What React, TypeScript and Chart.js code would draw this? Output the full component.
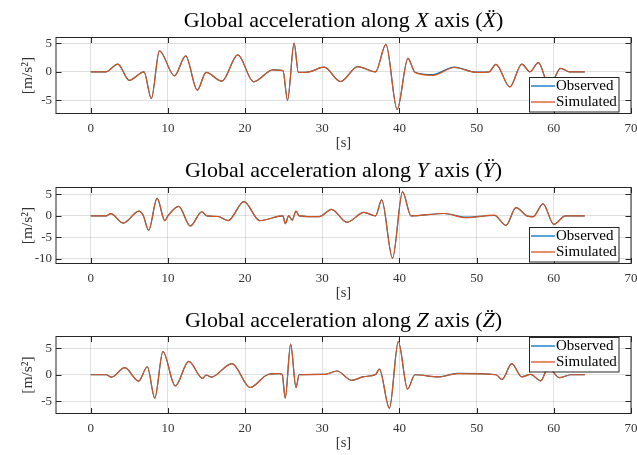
import React, { useEffect, useRef } from 'react';
import { Chart, registerables } from 'chart.js';

Chart.register(...registerables);

// ---------- data ----------
const xTickValues = [0, 10, 20, 30, 40, 50, 60, 70];
const X_MIN = -4.5;
const X_MAX = 70;

const tX = [0, 2, 3.5, 5.0, 6.9, 7.85, 8.9, 10.85, 12.3, 13.8, 14.95, 17.0, 19.05, 21.1, 23.6, 24.9, 25.5, 26.35, 26.9, 28.3, 30.25, 32.35, 34.6, 36.9, 38.25, 39.7, 41.1, 42.0, 44.3, 47.1, 49.9, 51.6, 52.5, 54.3, 55.85, 56.9, 58.0, 59.4, 60.9, 62.0, 64.0];
const xSimulated = [0, 0, 1.35, -1.5, 0, -4.7, 3.65, -0.7, 2.8, -3.2, -0.1, -1.65, 2.95, -1.75, 0.35, 0.2, -5.0, 5.0, -0.1, 0.0, 0.8, -1.7, 0.9, 0, 4.8, -6.6, 2.35, -0.1, -0.62, 0.75, -0.1, 0, 1.3, -2.65, 1.35, 0, 1.6, -2.5, 0.6, 0, 0];
const xObserved = [0, 0, 1.35, -1.5, 0, -4.7, 3.65, -0.7, 2.8, -3.2, -0.1, -1.65, 2.95, -1.75, 0.35, 0.2, -5.0, 5.0, -0.1, 0.0, 0.8, -1.7, 0.9, 0, 4.8, -6.6, 2.35, -0.07, -0.5, 0.82, -0.07, 0, 1.3, -2.65, 1.35, 0, 1.6, -2.5, 0.6, 0, 0];

const tY = [0, 2, 2.6, 4.2, 6.25, 6.8, 7.5, 8.6, 9.6, 10.0, 11.4, 12.9, 14.4, 15.05, 16.5, 17.8, 19.85, 21.9, 24.9, 25.2, 25.65, 26.1, 26.6, 27.0, 29.6, 31.2, 33.2, 35.4, 36.9, 37.7, 39.1, 40.4, 41.5, 45.8, 48.6, 52.3, 53.8, 55.1, 56.5, 57.3, 58.6, 60.0, 61.5, 64.0];
const ySimulated = [0, 0, 0.5, -1.7, 1.1, 0.1, -3.35, 4.05, -1.1, 0, 2.2, -2.35, 0.95, 0, -0.15, -1.1, 3.3, -1.1, 0, -1.8, 0, -1.0, 1.1, 0, -0.2, 1.5, -1.5, 0.8, 0, 3.7, -9.85, 5.6, 0, 0.55, -0.42, 0.15, -2.2, 1.9, 0, -0.25, 2.8, -2.0, 0, 0];
const yObserved = [0, 0, 0.5, -1.7, 1.1, 0.1, -3.35, 4.05, -1.1, 0, 2.2, -2.35, 0.95, 0, -0.15, -1.1, 3.3, -1.1, 0, -1.8, 0, -1.0, 1.1, 0, -0.2, 1.5, -1.5, 0.8, 0, 3.7, -9.85, 5.6, 0, 0.55, -0.32, 0.08, -2.2, 1.9, 0, -0.18, 2.8, -2.0, 0, 0];

const tZ = [0, 2, 2.7, 4.4, 6.2, 7.33, 8.3, 9.35, 10.95, 12.7, 14.5, 14.95, 15.6, 18.3, 20.65, 22.9, 24.4, 24.8, 25.2, 25.9, 26.6, 27.0, 30.3, 31.9, 33.8, 35.4, 36.9, 37.4, 38.7, 39.85, 41.05, 42.0, 45.1, 47.5, 52.5, 53.3, 54.55, 55.85, 57.0, 58.3, 59.3, 60.7, 62.2, 64.0];
const zSimulated = [0, 0, -0.45, 1.33, -1.2, 1.5, -4.4, 4.35, -2.1, 2.5, -0.7, -0.05, -0.45, 2.1, -2.4, 0, 0.2, 0.1, -4.4, 5.75, -2.4, 0, 0.05, 0.7, -1.05, -0.35, 0.05, 1.05, -6.3, 6.25, -2.7, 0, -0.4, 0.2, 0, -0.9, 2.1, -0.4, 0.05, -1.15, 1.4, -0.55, 0, 0];
const zObserved = [0, 0, -0.45, 1.33, -1.2, 1.5, -4.4, 4.35, -2.1, 2.5, -0.7, -0.05, -0.45, 2.1, -2.4, 0, 0.2, 0.1, -4.4, 5.75, -2.4, 0, 0.05, 0.7, -1.05, -0.35, 0.05, 1.05, -6.3, 6.25, -2.7, 0, -0.4, 0.25, 0, -0.9, 2.1, -0.4, 0.05, -1.15, 1.4, -0.55, 0, 0];

const yTicksX = [-5, 0, 5];
const yTicksY = [-10, -5, 0, 5];
const yTicksZ = [-5, 0, 5];

const legendLabels = ['Observed', 'Simulated'];

// ---------- styles ----------
const SERIF = '"Liberation Serif", "DejaVu Serif", serif';
const OBS_COLOR = '#0072BD';
const SIM_COLOR = '#D95319';
const AXIS_COLOR = '#262626';
const GRID_COLOR = 'rgba(38,38,38,0.15)';
const CANVAS_W = 637;
const CANVAS_H = 150;

type Panel = {
  top: number;
  padTop: number;
  letter: string;
  ddot: string;
  t: number[];
  obs: number[];
  sim: number[];
  yMin: number;
  yMax: number;
  yTicks: number[];
  legendPos: 'se' | 'ne';
};

const panels: Panel[] = [
  { top: 0, padTop: 37.5, letter: 'X', ddot: 'X\u0308', t: tX, obs: xObserved, sim: xSimulated, yMin: -7.3, yMax: 6, yTicks: yTicksX, legendPos: 'se' },
  { top: 150, padTop: 37.5, letter: 'Y', ddot: '\u0178', t: tY, obs: yObserved, sim: ySimulated, yMin: -11.1, yMax: 6.6, yTicks: yTicksY, legendPos: 'se' },
  { top: 300, padTop: 36.5, letter: 'Z', ddot: 'Z\u0308', t: tZ, obs: zObserved, sim: zSimulated, yMin: -7.3, yMax: 7.2, yTicks: yTicksZ, legendPos: 'ne' },
];

function makeDecorPlugin(panel: Panel) {
  return {
    id: 'decor',
    afterDraw(chart: any) {
      const { ctx, chartArea } = chart;
      const { left, right, top, bottom } = chartArea;
      const xs = chart.scales.x;
      const ys = chart.scales.y;
      ctx.save();
      // box
      ctx.strokeStyle = AXIS_COLOR;
      ctx.lineWidth = 1;
      ctx.strokeRect(left, top, right - left, bottom - top);
      // inward ticks
      const tl = 5.5;
      ctx.beginPath();
      xTickValues.forEach((v) => {
        const px = Math.round(xs.getPixelForValue(v)) + 0.5;
        ctx.moveTo(px, bottom);
        ctx.lineTo(px, bottom - tl);
        ctx.moveTo(px, top);
        ctx.lineTo(px, top + tl);
      });
      panel.yTicks.forEach((v) => {
        const py = Math.round(ys.getPixelForValue(v)) + 0.5;
        ctx.moveTo(left, py);
        ctx.lineTo(left + tl, py);
        ctx.moveTo(right, py);
        ctx.lineTo(right - tl, py);
      });
      ctx.stroke();

      // title
      const size = 22;
      const segs = [
        { text: 'Global acceleration along ', italic: false },
        { text: panel.letter, italic: true },
        { text: ' axis (', italic: false },
        { text: panel.ddot, italic: true },
        { text: ')', italic: false },
      ];
      const fontOf = (it: boolean) => `${it ? 'italic ' : ''}${size}px ${SERIF}`;
      let total = 0;
      const widths = segs.map((s) => {
        ctx.font = fontOf(s.italic);
        const w = ctx.measureText(s.text).width;
        total += w;
        return w;
      });
      let x = (left + right) / 2 - total / 2;
      ctx.fillStyle = '#000';
      ctx.textBaseline = 'alphabetic';
      ctx.textAlign = 'left';
      segs.forEach((s, i) => {
        ctx.font = fontOf(s.italic);
        ctx.fillText(s.text, x, 27);
        x += widths[i];
      });

      // legend
      const bw = 89.5;
      const bh = 34.5;
      const bx = right - 102.5;
      const by = panel.legendPos === 'se' ? bottom - 2 - bh : top + 0.5;
      ctx.fillStyle = '#fff';
      ctx.fillRect(bx, by, bw, bh);
      ctx.strokeStyle = AXIS_COLOR;
      ctx.lineWidth = 1;
      ctx.strokeRect(Math.round(bx) + 0.5, Math.round(by) + 0.5, bw, bh);
      const colors = [OBS_COLOR, SIM_COLOR];
      ctx.font = `15px ${SERIF}`;
      ctx.textBaseline = 'middle';
      legendLabels.forEach((lab, i) => {
        const cy = by + 9 + i * 16;
        ctx.strokeStyle = colors[i];
        ctx.lineWidth = 1.3;
        ctx.beginPath();
        ctx.moveTo(bx + 2.5, cy);
        ctx.lineTo(bx + 26.5, cy);
        ctx.stroke();
        ctx.fillStyle = '#000';
        ctx.fillText(lab, bx + 27.5, cy + 0.5);
      });
      ctx.restore();
    },
  };
}

function PanelChart({ panel }: { panel: Panel }) {
  const ref = useRef<HTMLCanvasElement | null>(null);
  useEffect(() => {
    if (!ref.current) return;
    const tickFont = { family: SERIF, size: 13 };
    const chart = new Chart(ref.current, {
      type: 'line',
      data: {
        datasets: [
          {
            label: 'Simulated',
            data: panel.t.map((x, i) => ({ x, y: panel.sim[i] })),
            borderColor: SIM_COLOR,
            borderWidth: 1.2,
            pointRadius: 0,
            cubicInterpolationMode: 'monotone',
            fill: false,
          },
          {
            label: 'Observed',
            data: panel.t.map((x, i) => ({ x, y: panel.obs[i] })),
            borderColor: OBS_COLOR,
            borderWidth: 1.2,
            pointRadius: 0,
            cubicInterpolationMode: 'monotone',
            fill: false,
          },
        ],
      },
      options: {
        animation: false,
        responsive: false,
        devicePixelRatio: 1,
        layout: { padding: { top: panel.padTop, right: 6, left: 0, bottom: 0 } },
        plugins: {
          legend: { display: false },
          tooltip: { enabled: false },
          title: { display: false },
        },
        scales: {
          x: {
            type: 'linear',
            min: X_MIN,
            max: X_MAX,
            afterBuildTicks: (s: any) => {
              s.ticks = xTickValues.map((v) => ({ value: v }));
            },
            afterFit: (s: any) => {
              s.height = 36.5;
              s.paddingLeft = 0;
              s.paddingRight = 0;
            },
            grid: { color: GRID_COLOR, drawTicks: false, lineWidth: 1 },
            border: { display: false },
            ticks: { padding: 7, font: tickFont, color: '#333', maxRotation: 0, autoSkip: false },
            title: {
              display: true,
              text: '[s]',
              color: '#333',
              font: { family: SERIF, size: 14.5, lineHeight: 1 },
              padding: { top: 0, bottom: 0 },
            },
          },
          y: {
            type: 'linear',
            min: panel.yMin,
            max: panel.yMax,
            afterBuildTicks: (s: any) => {
              s.ticks = panel.yTicks.map((v) => ({ value: v }));
            },
            afterFit: (s: any) => {
              s.width = 56;
              s.paddingTop = 0;
              s.paddingBottom = 0;
            },
            grid: { color: GRID_COLOR, drawTicks: false, lineWidth: 1 },
            border: { display: false },
            ticks: { padding: 4, font: tickFont, color: '#333', autoSkip: false },
            title: {
              display: true,
              text: '[m/s²]',
              color: '#333',
              font: { family: SERIF, size: 15.5, lineHeight: 1 },
              padding: { top: 20, bottom: 0 },
            },
          },
        },
      } as any,
      plugins: [makeDecorPlugin(panel)],
    });
    return () => chart.destroy();
  }, [panel]);
  return (
    <canvas
      ref={ref}
      width={CANVAS_W}
      height={CANVAS_H}
      style={{ position: 'absolute', left: 0, top: panel.top, width: CANVAS_W, height: CANVAS_H }}
    />
  );
}

export default function App() {
  return (
    <div style={{ position: 'absolute', left: 0, top: 0, width: 637, height: 455, background: '#fff' }}>
      {panels.map((p, i) => (
        <PanelChart key={i} panel={p} />
      ))}
    </div>
  );
}
